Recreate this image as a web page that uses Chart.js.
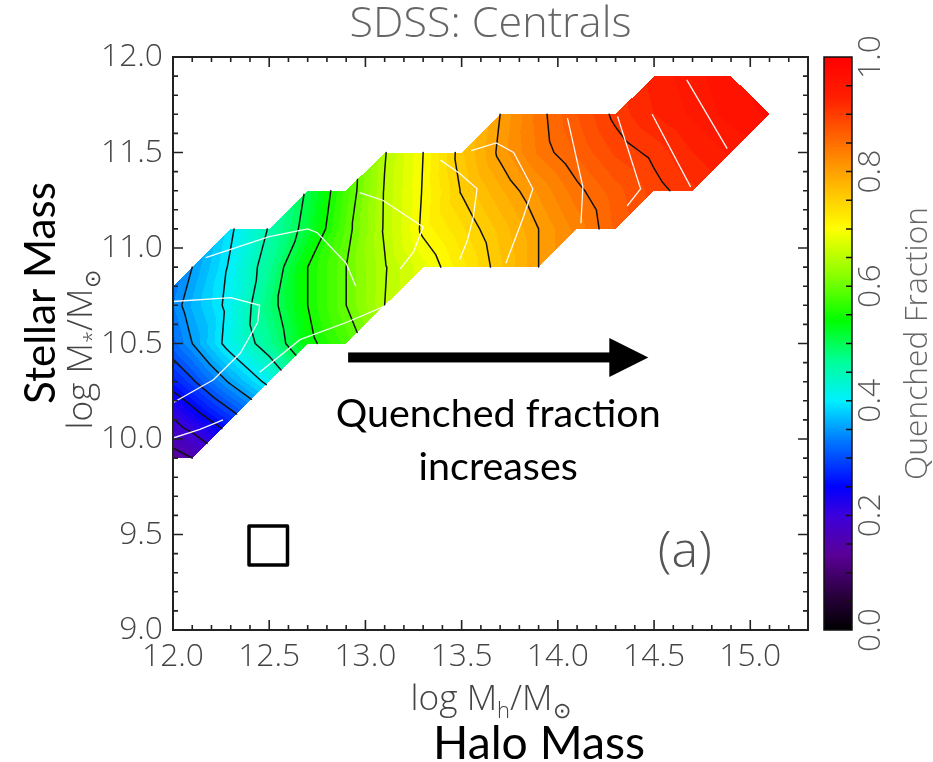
<!DOCTYPE html>
<html><head><meta charset="utf-8">
<script src="https://cdn.jsdelivr.net/npm/chart.js@4.4.1/dist/chart.umd.min.js"></script>
<style>html,body{margin:0;padding:0;background:#fff;}canvas{display:block;}</style>
</head><body>
<canvas id="c" width="933" height="762" style="width:933px;height:762px"></canvas>
<script>
// ---------------- DATA ----------------
const N = null;
// grid nodes: log halo mass (columns) and log stellar mass (rows)
const haloMassNodes    = [11.9,12.1,12.3,12.5,12.7,12.9,13.1,13.3,13.5,13.7,13.9,14.1,14.3,14.5,14.7,14.9,15.1];
const stellarMassNodes = [9.9,10.1,10.3,10.5,10.7,10.9,11.1,11.3,11.5,11.7,11.9];
// quenched fraction at each node, one array per stellar-mass row (null = no data)
const qfMs9p9  = [0.11,0.15,N,N,N,N,N,N,N,N,N,N,N,N,N,N,N];
const qfMs10p1 = [0.17,0.225,0.28,N,N,N,N,N,N,N,N,N,N,N,N,N,N];
const qfMs10p3 = [0.24,0.295,0.355,0.41,N,N,N,N,N,N,N,N,N,N,N,N,N];
const qfMs10p5 = [0.29,0.35,0.415,0.47,0.54,0.58,N,N,N,N,N,N,N,N,N,N,N];
const qfMs10p7 = [0.31,0.365,0.41,0.485,0.55,0.60,0.65,N,N,N,N,N,N,N,N,N,N];
const qfMs10p9 = [N,0.35,0.405,0.47,0.55,0.60,0.648,0.683,0.72,0.76,0.80,N,N,N,N,N,N];
const qfMs11p1 = [N,N,0.395,0.453,0.515,0.59,0.653,0.705,0.735,0.767,0.80,0.83,0.865,N,N,N,N];
const qfMs11p3 = [N,N,N,N,0.505,0.58,0.652,0.702,0.752,0.785,0.815,0.845,0.87,0.893,0.91,N,N];
const qfMs11p5 = [N,N,N,N,N,N,0.648,0.70,0.76,0.805,0.84,0.865,0.89,0.905,0.925,0.94,N];
const qfMs11p7 = [N,N,N,N,N,N,N,N,N,0.80,0.843,0.875,0.905,0.925,0.94,0.955,0.965];
const qfMs11p9 = [N,N,N,N,N,N,N,N,N,N,N,N,N,0.93,0.945,0.96,N];
// black contour levels of the quenched fraction
const contourLevels = [0.15,0.20,0.25,0.30,0.35,0.40,0.45,0.50,0.55,0.60,0.65,0.70,0.75,0.80,0.85,0.90];
// white contour lines [logMh, logM*]
const whiteLine1 = [[12.0,10.005],[12.14,10.05],[12.26,10.10]];
const whiteLine2 = [[12.0,10.19],[12.21,10.31],[12.35,10.45],[12.44,10.61],[12.45,10.70],[12.30,10.74],[12.0,10.72]];
const whiteLine3 = [[12.17,10.95],[12.50,11.06],[12.70,11.10],[12.75,11.08],[12.90,10.92],[12.95,10.80]];
const whiteLine4 = [[12.97,11.29],[13.09,11.25],[13.30,11.11],[13.25,10.98],[13.18,10.89]];
const whiteLine5 = [[13.39,11.46],[13.49,11.39],[13.58,11.31],[13.56,11.16],[13.53,11.04],[13.49,10.94]];
const whiteLine6 = [[13.55,11.51],[13.68,11.55],[13.77,11.50],[13.87,11.31],[13.82,11.16],[13.73,10.92]];
const whiteLine7 = [[14.05,11.68],[14.13,11.32],[14.12,11.13]];
const whiteLine8 = [[14.31,11.69],[14.43,11.31],[14.36,11.22]];
const whiteLine9 = [[14.49,11.70],[14.69,11.32]];
const whiteLine10 = [[14.67,11.88],[14.88,11.52]];
const whiteLine11 = [[12.45,10.35],[12.66,10.52],[12.90,10.61],[13.18,10.73]];
// tick labels
const xTickLabels  = [12.0,12.5,13.0,13.5,14.0,14.5,15.0];
const yTickLabels  = [9.0,9.5,10.0,10.5,11.0,11.5,12.0];
const cbTickLabels = [0.0,0.2,0.4,0.6,0.8,1.0];

const qfGrid = [qfMs9p9,qfMs10p1,qfMs10p3,qfMs10p5,qfMs10p7,qfMs10p9,qfMs11p1,qfMs11p3,qfMs11p5,qfMs11p7,qfMs11p9];
const whiteLines = [whiteLine1,whiteLine2,whiteLine3,whiteLine4,whiteLine5,whiteLine6,whiteLine7,whiteLine8,whiteLine9,whiteLine10,whiteLine11];

// ---------------- STYLE ----------------
const THIN = "'Open Sans','DejaVu Sans',sans-serif";
const GILL = "Lato,'Open Sans',sans-serif";
const cmapStops = [
  [0.00,[0,0,0]],[0.06,[40,0,60]],[0.13,[90,0,150]],[0.20,[60,0,220]],[0.25,[0,0,255]],
  [0.33,[0,120,255]],[0.40,[0,240,255]],[0.47,[0,255,150]],[0.54,[0,255,0]],[0.62,[140,255,0]],
  [0.70,[255,255,0]],[0.78,[255,180,0]],[0.86,[255,100,0]],[0.93,[255,30,0]],[1.00,[255,0,0]]];
function cmap(v){
  v=Math.max(0,Math.min(1,v));
  for(let k=1;k<cmapStops.length;k++){
    if(v<=cmapStops[k][0]){const a=cmapStops[k-1],b=cmapStops[k];const t=(v-a[0])/(b[0]-a[0]);
      return [0,1,2].map(n=>Math.round(a[1][n]+t*(b[1][n]-a[1][n])));}
  }
  return cmapStops[cmapStops.length-1][1];
}
function fitSize(text,fam,weight,target){const c=document.createElement('canvas').getContext('2d');c.font=`${weight} 100px ${fam}`;return 100*target/c.measureText(text).width;}
const tickSize = fitSize('12.0',THIN,300,62);

// ---------------- TRIANGULATION ----------------
const hStep = haloMassNodes[1]-haloMassNodes[0], sStep = stellarMassNodes[1]-stellarMassNodes[0];
const cells = {}; const tris = [];
for(let j=0;j<stellarMassNodes.length-1;j++)for(let i=0;i<haloMassNodes.length-1;i++){
  const g=qfGrid;
  const A=[haloMassNodes[i],stellarMassNodes[j],g[j][i]], B=[haloMassNodes[i+1],stellarMassNodes[j],g[j][i+1]];
  const C=[haloMassNodes[i],stellarMassNodes[j+1],g[j+1][i]], D=[haloMassNodes[i+1],stellarMassNodes[j+1],g[j+1][i+1]];
  const ok=p=>p[2]!==null; let list=[];
  if(ok(A)&&ok(B)&&ok(C)&&ok(D)) list=[[A,B,D],[A,C,D]];
  else if(ok(A)&&ok(B)&&ok(D)) list=[[A,B,D]];
  else if(ok(A)&&ok(C)&&ok(D)) list=[[A,C,D]];
  else if(ok(A)&&ok(B)&&ok(C)) list=[[A,B,C]];
  else if(ok(B)&&ok(C)&&ok(D)) list=[[B,C,D]];
  cells[j+','+i]=list; tris.push(...list);
}
function interp(t,x,y){
  const [p,q,r]=t; const det=(q[1]-r[1])*(p[0]-r[0])+(r[0]-q[0])*(p[1]-r[1]);
  const l1=((q[1]-r[1])*(x-r[0])+(r[0]-q[0])*(y-r[1]))/det;
  const l2=((r[1]-p[1])*(x-r[0])+(p[0]-r[0])*(y-r[1]))/det;
  const l3=1-l1-l2, e=-1e-9;
  if(l1<e||l2<e||l3<e) return null;
  return l1*p[2]+l2*q[2]+l3*r[2];
}
function fieldAt(x,y){
  const i=Math.floor((x-haloMassNodes[0])/hStep), j=Math.floor((y-stellarMassNodes[0])/sStep);
  const list=cells[j+','+i]; if(!list) return null;
  for(const t of list){const f=interp(t,x,y); if(f!==null) return f;}
  return null;
}

// ---------------- PLUGINS ----------------
const heatPlugin = {
  id:'heat',
  beforeDatasetsDraw(chart){
    const {ctx,chartArea:ca,scales:{x,y}}=chart;
    const w=Math.round(ca.right-ca.left), h=Math.round(ca.bottom-ca.top);
    const off=document.createElement('canvas'); off.width=w; off.height=h;
    const o=off.getContext('2d'); const img=o.createImageData(w,h); const d=img.data;
    const step=0.0125;
    for(let py=0;py<h;py++){const ms=y.getValueForPixel(ca.top+py+0.5);
      for(let px=0;px<w;px++){const mh=x.getValueForPixel(ca.left+px+0.5);
        const f=fieldAt(mh,ms); if(f===null) continue;
        const c=cmap(Math.min(1,(Math.floor(f/step)+0.5)*step)); const k=(py*w+px)*4;
        d[k]=c[0];d[k+1]=c[1];d[k+2]=c[2];d[k+3]=255;}}
    o.putImageData(img,0,0);
    ctx.save(); ctx.drawImage(off,ca.left,ca.top);
    // black contours
    ctx.beginPath(); ctx.rect(ca.left,ca.top,ca.right-ca.left,ca.bottom-ca.top); ctx.clip();
    ctx.strokeStyle='#111'; ctx.lineWidth=1.5; ctx.lineJoin='round'; ctx.lineCap='round';
    for(const L of contourLevels){
      ctx.beginPath();
      for(const t of tris){const pts=[];
        for(let k=0;k<3;k++){const p=t[k],q=t[(k+1)%3];
          if((p[2]<L)!==(q[2]<L)){const s=(L-p[2])/(q[2]-p[2]);pts.push([p[0]+s*(q[0]-p[0]),p[1]+s*(q[1]-p[1])]);}}
        if(pts.length===2){ctx.moveTo(x.getPixelForValue(pts[0][0]),y.getPixelForValue(pts[0][1]));
          ctx.lineTo(x.getPixelForValue(pts[1][0]),y.getPixelForValue(pts[1][1]));}
      }
      ctx.stroke();
    }
    ctx.restore();
  }
};

function drawRich(ctx,parts,cx,cy,rot,color){
  ctx.save(); ctx.translate(cx,cy); ctx.rotate(rot);
  let total=0; parts.forEach(p=>{ctx.font=`300 ${p.s}px ${THIN}`;p.w=ctx.measureText(p.t).width;total+=p.w;});
  let xx=-total/2; ctx.fillStyle=color; ctx.textBaseline='alphabetic'; ctx.textAlign='left';
  parts.forEach(p=>{ctx.font=`300 ${p.s}px ${THIN}`;ctx.fillText(p.t,xx,p.dy);xx+=p.w;});
  ctx.restore();
}
function massLabel(sub,base){return [{t:'log M',s:base,dy:0},{t:sub,s:base*0.62,dy:base*0.22},{t:'/M',s:base,dy:0},{t:'\u2299',s:base*0.62,dy:base*0.22}];}

const framePlugin = {
  id:'frame',
  afterDatasetsDraw(chart){
    const {ctx,chartArea:ca,scales:{x,y}}=chart;
    ctx.save(); ctx.strokeStyle='#222'; ctx.lineWidth=1.6;
    ctx.beginPath();
    for(let k=0;k<=33;k++){const v=12+k*0.1; if(v>15.3+1e-9)break; const px=x.getPixelForValue(v);
      const major=xTickLabels.some(t=>Math.abs(t-v)<1e-6); const len=major?10:5;
      ctx.moveTo(px,ca.bottom);ctx.lineTo(px,ca.bottom-len);ctx.moveTo(px,ca.top);ctx.lineTo(px,ca.top+len);}
    for(let k=0;k<=30;k++){const v=9+k*0.1; const py=y.getPixelForValue(v);
      const major=yTickLabels.some(t=>Math.abs(t-v)<1e-6); const len=major?10:5;
      ctx.moveTo(ca.left,py);ctx.lineTo(ca.left+len,py);ctx.moveTo(ca.right,py);ctx.lineTo(ca.right-len,py);}
    ctx.stroke();
    ctx.lineWidth=2; ctx.strokeRect(ca.left,ca.top,ca.right-ca.left,ca.bottom-ca.top);
    ctx.restore();
  },
  afterDraw(chart){
    const {ctx,chartArea:ca,scales:{x,y,cb}}=chart;
    ctx.save();
    // colorbar
    const cbL=ca.right+16, cbW=28, top=cb.getPixelForValue(1), bot=cb.getPixelForValue(0);
    for(let py=Math.floor(top);py<Math.ceil(bot);py++){const c=cmap(cb.getValueForPixel(py+0.5));
      ctx.fillStyle=`rgb(${c[0]},${c[1]},${c[2]})`;ctx.fillRect(cbL,py,cbW,1);}
    ctx.strokeStyle='#111';ctx.lineWidth=1.5;ctx.strokeRect(cbL,top,cbW,bot-top);
    ctx.beginPath();
    for(let k=1;k<20;k++){const py=cb.getPixelForValue(k*0.05);ctx.moveTo(cbL+cbW,py);ctx.lineTo(cbL+cbW-6,py);}
    ctx.stroke();
    ctx.fillStyle='#555';ctx.font=`300 ${tickSize}px ${THIN}`;ctx.textAlign='center';ctx.textBaseline='middle';
    for(const v of cbTickLabels){ctx.save();ctx.translate(cbL+cbW+19,cb.getPixelForValue(v));ctx.rotate(-Math.PI/2);ctx.fillText(v.toFixed(1),0,0);ctx.restore();}
    ctx.save();ctx.translate(cbL+cbW+66,(top+bot)/2);ctx.rotate(-Math.PI/2);ctx.fillStyle='#666';ctx.fillText('Quenched Fraction',0,0);ctx.restore();
    // title
    ctx.fillStyle='#666';ctx.font=`300 ${fitSize('SDSS: Centrals',THIN,300,282)}px ${THIN}`;
    ctx.fillText('SDSS: Centrals',(ca.left+ca.right)/2,25);
    // axis sub-titles
    const sub=fitSize('log Mh/M',THIN,300,150);
    drawRich(ctx,massLabel('h',sub),(ca.left+ca.right)/2,710,0,'#444');
    drawRich(ctx,massLabel('*',sub),92,350,-Math.PI/2,'#444');
    // big labels
    ctx.fillStyle='#000';ctx.textBaseline='alphabetic';
    ctx.font=`400 ${fitSize('Halo Mass',GILL,400,212)}px ${GILL}`;ctx.fillText('Halo Mass',539,759);
    ctx.save();ctx.translate(55,293);ctx.rotate(-Math.PI/2);
    ctx.font=`400 ${fitSize('Stellar Mass',GILL,400,222)}px ${GILL}`;ctx.fillText('Stellar Mass',0,0);ctx.restore();
    // arrow
    const ay=y.getPixelForValue(10.427), ax0=x.getPixelForValue(12.91), ax1=x.getPixelForValue(14.47);
    ctx.fillStyle='#000';ctx.fillRect(ax0,ay-5,ax1-39-ax0+2,10);
    ctx.beginPath();ctx.moveTo(ax1,ay);ctx.lineTo(ax1-39,ay-19.5);ctx.lineTo(ax1-39,ay+19.5);ctx.closePath();ctx.fill();
    const qs=fitSize('Quenched fraction',GILL,400,325);
    ctx.font=`400 ${qs}px ${GILL}`;ctx.textAlign='center';
    ctx.fillText('Quenched fraction',x.getPixelForValue(13.69),y.getPixelForValue(10.063));
    ctx.fillText('increases',x.getPixelForValue(13.69),y.getPixelForValue(9.786));
    // bin-size square
    ctx.strokeStyle='#000';ctx.lineWidth=3.5;ctx.lineJoin='round';
    const sx0=x.getPixelForValue(12.395),sx1=x.getPixelForValue(12.595),sy0=y.getPixelForValue(9.545),sy1=y.getPixelForValue(9.34);
    ctx.strokeRect(sx0,sy0,sx1-sx0,sy1-sy0);
    // panel label
    ctx.fillStyle='#555';ctx.font=`300 ${fitSize('(a)',THIN,300,54)}px ${THIN}`;ctx.textBaseline='middle';
    ctx.fillText('(a)',x.getPixelForValue(14.66),y.getPixelForValue(9.405));
    ctx.restore();
  }
};

// ---------------- CHART ----------------
const tickFont={family:THIN,size:tickSize,weight:300};
new Chart(document.getElementById('c'),{
  type:'scatter',
  data:{datasets:whiteLines.map(l=>({data:l.map(p=>({x:p[0],y:p[1]})),showLine:true,borderColor:'rgba(255,255,255,0.95)',borderWidth:1.3,pointRadius:0,tension:0,fill:false}))},
  options:{
    responsive:false,animation:false,devicePixelRatio:1,
    layout:{padding:{top:57,left:0,right:0,bottom:0}},
    plugins:{legend:{display:false},tooltip:{enabled:false},title:{display:false}},
    scales:{
      x:{type:'linear',min:12,max:15.3,position:'bottom',grid:{display:false,drawTicks:false},border:{display:false},
        ticks:{font:tickFont,color:'#444',padding:8,maxRotation:0,autoSkip:false,callback:v=>v.toFixed(1)},
        afterBuildTicks:s=>{s.ticks=xTickLabels.map(v=>({value:v}));},afterFit:s=>{s.height=762-630;}},
      y:{type:'linear',min:9,max:12,position:'left',grid:{display:false,drawTicks:false},border:{display:false},
        ticks:{font:tickFont,color:'#444',padding:10,autoSkip:false,callback:v=>v.toFixed(1)},
        afterBuildTicks:s=>{s.ticks=yTickLabels.map(v=>({value:v}));},afterFit:s=>{s.width=173;}},
      cb:{type:'linear',axis:'y',min:0,max:1,position:'right',grid:{display:false,drawTicks:false},border:{display:false},
        ticks:{display:false},afterBuildTicks:s=>{s.ticks=cbTickLabels.map(v=>({value:v}));},afterFit:s=>{s.width=933-808;}}
    }
  },
  plugins:[heatPlugin,framePlugin]
});
</script>
</body></html>
